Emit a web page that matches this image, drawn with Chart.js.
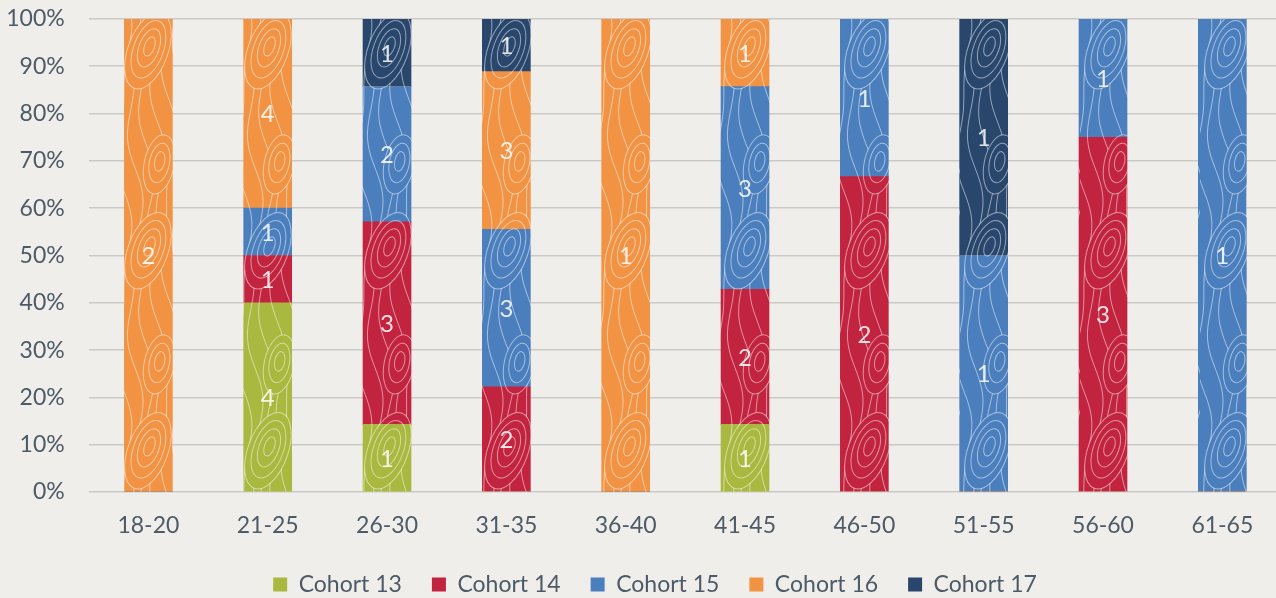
<!DOCTYPE html>
<html>
<head>
<meta charset="utf-8">
<script src="https://cdn.jsdelivr.net/npm/chart.js@4.4.1/dist/chart.umd.min.js"></script>
<style>
  html, body { margin: 0; padding: 0; width: 1276px; height: 598px; overflow: hidden; background: #f0eeea; }
  #wrap { position: relative; width: 1326px; height: 606px; }
</style>
</head>
<body>
<div id="wrap"><canvas id="c" width="1326" height="606"></canvas></div>
<script>
// Age groups along the x axis
const ageGroups = ['18-20', '21-25', '26-30', '31-35', '36-40', '41-45', '46-50', '51-55', '56-60', '61-65'];

// Head counts per cohort in each age group
const cohort13 = [0, 4, 1, 0, 0, 1, 0, 0, 0, 0];
const cohort14 = [0, 1, 3, 2, 0, 2, 2, 0, 3, 0];
const cohort15 = [0, 1, 2, 3, 0, 3, 1, 1, 1, 1];
const cohort16 = [2, 4, 0, 3, 1, 1, 0, 0, 0, 0];
const cohort17 = [0, 0, 1, 1, 0, 0, 0, 1, 0, 0];

const seriesNames = ['Cohort 13', 'Cohort 14', 'Cohort 15', 'Cohort 16', 'Cohort 17'];
const seriesCounts = [cohort13, cohort14, cohort15, cohort16, cohort17];
const seriesColors = ['#a9b83f', '#c2233f', '#4a7ebc', '#f29243', '#29466d'];

const yTicks = [0, 10, 20, 30, 40, 50, 60, 70, 80, 90, 100];

const FONT = 'Lato';
const TEXT_COLOR = '#4d5a67';

// Totals per age group, used to turn counts into shares of 100%
const totals = ageGroups.map((_, i) => seriesCounts.reduce((s, arr) => s + arr[i], 0));

// Swirly contour-line texture used to fill the bars
function swirlPattern(color) {
  const w = 120, h = 200;
  const cv = document.createElement('canvas');
  cv.width = w; cv.height = h;
  const g = cv.getContext('2d');
  g.fillStyle = color;
  g.fillRect(0, 0, w, h);
  g.strokeStyle = 'rgba(255,255,255,0.5)';
  g.lineWidth = 1;

  // flowing vertical contour lines
  for (let x0 = 4; x0 < w; x0 += 11) {
    g.beginPath();
    for (let y = 0; y <= h; y += 4) {
      const t = y / h * Math.PI * 2;
      const x = x0 + 6 * Math.sin(t + x0 * 0.07) + 3 * Math.sin(2 * t + x0 * 0.13);
      if (y === 0) g.moveTo(x, y); else g.lineTo(x, y);
    }
    g.stroke();
  }

  // nested teardrop loops
  const loops = [[30, 45, 0.35, 4], [88, 120, -0.4, 4], [40, 160, 0.2, 3], [100, 30, 0.5, 3]];
  loops.forEach(([cx, cy, rot, n]) => {
    g.save();
    g.translate(cx, cy);
    g.rotate(rot);
    g.fillStyle = color;
    g.beginPath();
    g.ellipse(0, n * 1.5, 5 * n, 10 * n, 0, 0, Math.PI * 2);
    g.fill();
    for (let k = 1; k <= n; k++) {
      g.beginPath();
      g.ellipse(0, k * 1.5, 5 * k, 10 * k, 0, 0, Math.PI * 2);
      g.stroke();
    }
    g.restore();
  });
  return g.createPattern(cv, 'repeat');
}

// Writes each segment's head count in its middle
const countLabels = {
  id: 'countLabels',
  afterDatasetsDraw(chart) {
    const ctx = chart.ctx;
    ctx.save();
    ctx.font = '24px ' + FONT;
    ctx.fillStyle = 'rgba(255,255,255,0.85)';
    ctx.textAlign = 'center';
    ctx.textBaseline = 'middle';
    chart.data.datasets.forEach((ds, di) => {
      const meta = chart.getDatasetMeta(di);
      meta.data.forEach((el, i) => {
        const n = ds.counts[i];
        if (!n) return;
        const p = el.getProps(['x', 'y', 'base'], true);
        ctx.fillText(String(n), p.x, (p.y + p.base) / 2 + 1);
      });
    });
    ctx.restore();
  }
};

// Centres the legend row a little to the right of the canvas middle
const legendOffset = {
  id: 'legendOffset',
  afterLayout(chart) {
    if (chart.legend) chart.legend.left += 24;
  }
};

const datasets = seriesNames.map((name, k) => ({
  label: name,
  counts: seriesCounts[k],
  data: seriesCounts[k].map((n, i) => n / totals[i] * 100),
  backgroundColor: swirlPattern(seriesColors[k]),
  solidColor: seriesColors[k],
  borderWidth: 0,
  barThickness: 48,
  stack: 'all'
}));

new Chart(document.getElementById('c'), {
  type: 'bar',
  data: { labels: ageGroups, datasets },
  options: {
    responsive: false,
    animation: false,
    layout: { padding: { top: 0, right: 44, left: 4, bottom: 0 } },
    scales: {
      x: {
        stacked: true,
        grid: { display: false },
        border: { display: false },
        ticks: { color: TEXT_COLOR, font: { family: FONT, size: 23 }, padding: 12 },
        afterFit(axis) { axis.height = 51; }
      },
      y: {
        stacked: true,
        min: 0,
        max: 100,
        afterBuildTicks: (axis) => { axis.ticks = yTicks.map(v => ({ value: v })); },
        grid: { color: '#cbc9c5', lineWidth: 1.6, drawTicks: false },
        border: { display: false },
        ticks: {
          color: TEXT_COLOR,
          font: { family: FONT, size: 23 },
          padding: 24,
          callback: (v) => v + '%'
        },
        afterFit(axis) { axis.width = 84.7; axis.paddingTop = 19; axis.paddingBottom = 0; }
      }
    },
    plugins: {
      tooltip: { enabled: false },
      legend: {
        position: 'bottom',
        labels: {
          color: TEXT_COLOR,
          font: { family: FONT, size: 23 },
          boxWidth: 14,
          boxHeight: 14,
          padding: 30,
          generateLabels(chart) {
            return chart.data.datasets.map((ds, i) => ({
              text: ds.label,
              fillStyle: ds.solidColor,
              strokeStyle: ds.solidColor,
              lineWidth: 0,
              fontColor: TEXT_COLOR,
              datasetIndex: i,
              hidden: false
            }));
          }
        }
      }
    }
  },
  plugins: [countLabels, legendOffset]
});
</script>
</body>
</html>
